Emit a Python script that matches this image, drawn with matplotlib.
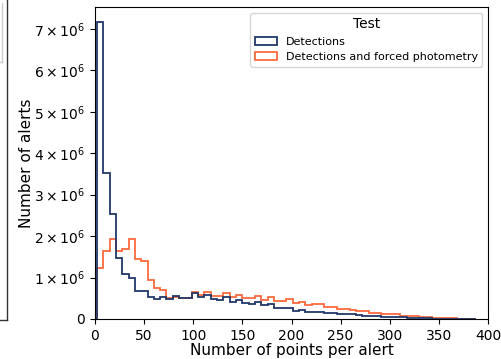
import numpy as np
import matplotlib
matplotlib.use("Agg")
import matplotlib.pyplot as plt
from matplotlib.ticker import FuncFormatter, MultipleLocator
from matplotlib.lines import Line2D
from matplotlib.patches import Patch

# Histogram bins (number of points per alert)
bin_start = 2.0
bin_width = 6.43
n_bins = 60

# Counts per bin, in millions
detections = [
    7.17, 3.52, 2.54, 1.47, 1.09, 0.98, 0.68, 0.68, 0.52, 0.48,
    0.54, 0.48, 0.56, 0.50, 0.515, 0.62, 0.52, 0.59, 0.48, 0.46,
    0.52, 0.42, 0.45, 0.38, 0.37, 0.41, 0.33, 0.35, 0.27, 0.265,
    0.27, 0.20, 0.21, 0.17, 0.17, 0.17, 0.14, 0.14, 0.12, 0.11,
    0.11, 0.09, 0.08, 0.07, 0.07, 0.05, 0.045, 0.045, 0.04, 0.03,
    0.03, 0.015, 0.015, 0.012, 0.008, 0.006, 0.005, 0.003, 0.002, 0.001,
]
forced = [
    1.22, 1.63, 1.93, 1.63, 1.69, 1.93, 1.45, 1.40, 0.94, 0.74,
    0.70, 0.50, 0.54, 0.50, 0.515, 0.64, 0.58, 0.65, 0.56, 0.555,
    0.62, 0.52, 0.58, 0.50, 0.50, 0.555, 0.46, 0.53, 0.44, 0.44,
    0.48, 0.38, 0.40, 0.345, 0.36, 0.35, 0.29, 0.30, 0.24, 0.24,
    0.22, 0.185, 0.185, 0.15, 0.14, 0.12, 0.11, 0.11, 0.08, 0.08,
    0.075, 0.056, 0.05, 0.03, 0.025, 0.02, 0.015, 0.01, 0.008, 0.005,
]
series_labels = ["Detections", "Detections and forced photometry"]
legend_title = "Test"
x_label = "Number of points per alert"
y_label = "Number of alerts"

edges = bin_start + bin_width * np.arange(n_bins + 1)
det = np.array(detections) * 1e6
frc = np.array(forced) * 1e6

W, H = 502, 359
fig = plt.figure(figsize=(W / 100, H / 100), dpi=100)
ax = fig.add_axes([95 / W, 1 - 319 / H, (488 - 95) / W, (319 - 7) / H])

c_det = "#22386a"
c_frc = "#fb6a3e"
ax.stairs(frc, edges, color=c_frc, lw=1.3, zorder=2)
ax.stairs(det, edges, color=c_det, lw=1.3, zorder=3)

ax.set_xlim(0, 400)
ax.set_ylim(0, det.max() * 1.05)
ax.xaxis.set_major_locator(MultipleLocator(50))
ax.yaxis.set_major_locator(MultipleLocator(1e6))


def fmt(v, pos):
    if abs(v) < 1:
        return "0"
    return r"$%d\times10^{6}$" % round(v / 1e6)


ax.yaxis.set_major_formatter(FuncFormatter(fmt))
ax.tick_params(labelsize=10)
ax.set_xlabel(x_label, fontsize=11, labelpad=0)
ax.set_ylabel(y_label, fontsize=11, labelpad=0)

handles = [Patch(facecolor="white", edgecolor=c_det, lw=1.3, label=series_labels[0]),
           Patch(facecolor="white", edgecolor=c_frc, lw=1.3, label=series_labels[1])]
leg = ax.legend(handles=handles, title=legend_title, loc="upper right",
                fontsize=8, title_fontsize=10, borderaxespad=0.5)

# remnants of a neighbouring panel at the left edge
tr = fig.transFigure
fig.add_artist(Line2D([7 / W, 7 / W], [1 - 320 / H, 1.0], color="#333333", lw=1.0, transform=tr))
fig.add_artist(Line2D([0, 7 / W], [1 - 320 / H, 1 - 320 / H], color="#333333", lw=1.0, transform=tr))
fig.add_artist(Line2D([2 / W, 2 / W], [1 - 62 / H, 1 - 3 / H], color="#cccccc", lw=1.0, transform=tr))
fig.add_artist(Line2D([0, 2 / W], [1 - 62 / H, 1 - 62 / H], color="#cccccc", lw=1.0, transform=tr))

fig.savefig("out.png", dpi=100)
